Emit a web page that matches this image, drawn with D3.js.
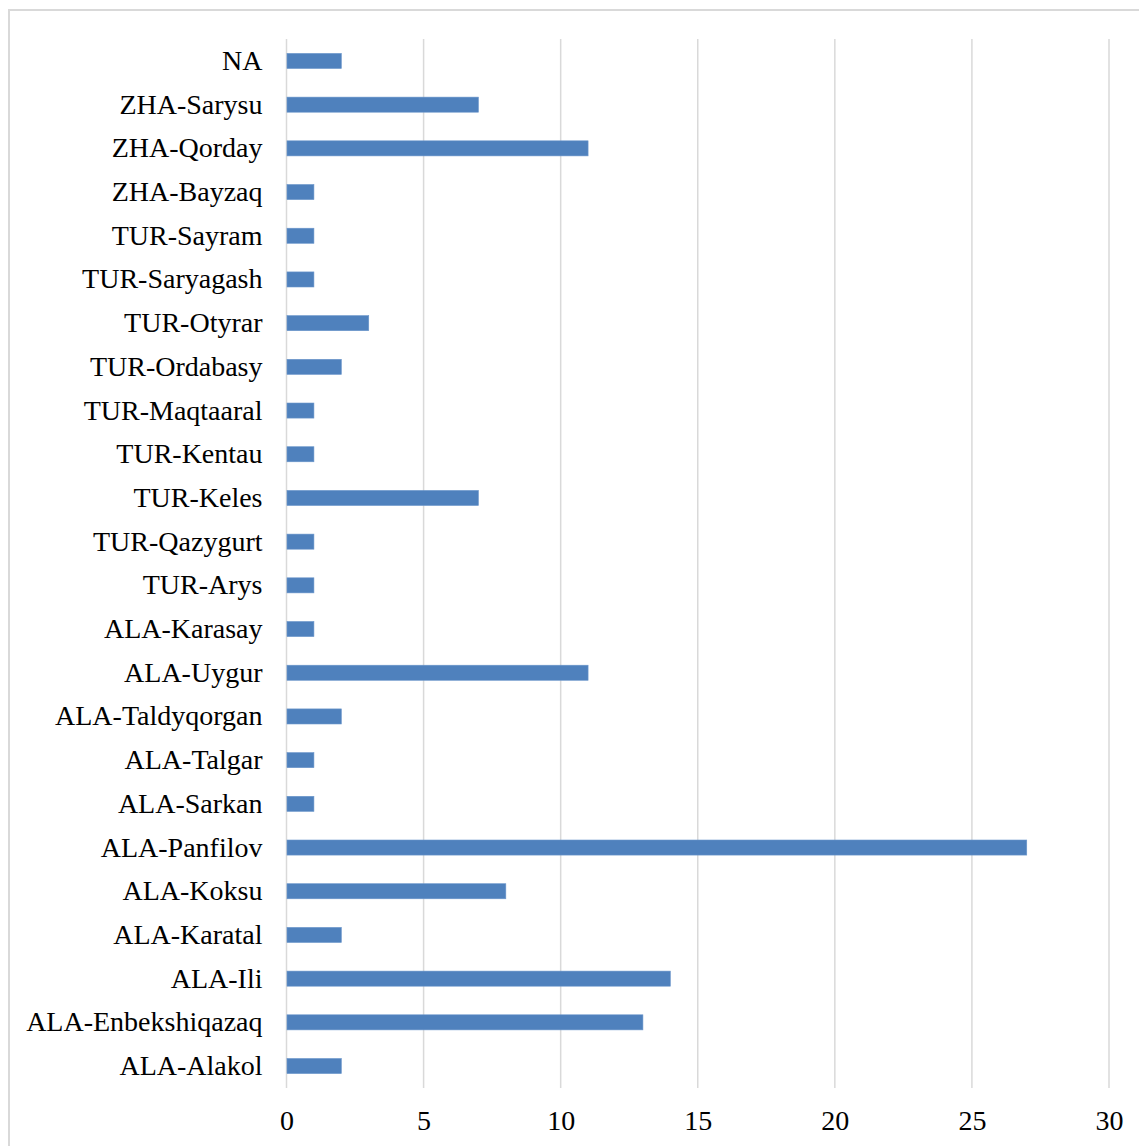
<!DOCTYPE html>
<html>
<head>
<meta charset="utf-8">
<script src="https://cdn.jsdelivr.net/npm/d3@7/dist/d3.min.js"></script>
<style>
  html, body { margin: 0; padding: 0; background: #fff; }
  svg { display: block; }
</style>
</head>
<body>
<svg id="chart" width="1139" height="1146"></svg>
<script>
// Districts, top to bottom
const categories = [
  "NA", "ZHA-Sarysu", "ZHA-Qorday", "ZHA-Bayzaq", "TUR-Sayram", "TUR-Saryagash",
  "TUR-Otyrar", "TUR-Ordabasy", "TUR-Maqtaaral", "TUR-Kentau", "TUR-Keles",
  "TUR-Qazygurt", "TUR-Arys", "ALA-Karasay", "ALA-Uygur", "ALA-Taldyqorgan",
  "ALA-Talgar", "ALA-Sarkan", "ALA-Panfilov", "ALA-Koksu", "ALA-Karatal",
  "ALA-Ili", "ALA-Enbekshiqazaq", "ALA-Alakol"
];
const counts = [2, 7, 11, 1, 1, 1, 3, 2, 1, 1, 7, 1, 1, 1, 11, 2, 1, 1, 27, 8, 2, 14, 13, 2];
const xTicks = [0, 5, 10, 15, 20, 25, 30];

const svg = d3.select("#chart");
const W = 1139, H = 1146;
const plotLeft = 286.5, plotRight = 1109, plotTop = 39, plotBottom = 1088;

// chart frame
svg.append("rect")
  .attr("x", 9).attr("y", 10)
  .attr("width", W + 20).attr("height", H + 20)
  .attr("fill", "#fff")
  .attr("stroke", "#d9d9d9").attr("stroke-width", 2);

const x = d3.scaleLinear().domain([0, 30]).range([plotLeft, plotRight]);
const y = d3.scaleBand().domain(categories).range([plotTop, plotBottom]).paddingInner(0.655).paddingOuter(0.33);

// vertical gridlines
svg.append("g")
  .selectAll("line")
  .data(xTicks)
  .join("line")
  .attr("x1", d => x(d)).attr("x2", d => x(d))
  .attr("y1", plotTop).attr("y2", plotBottom)
  .attr("stroke", "#d9d9d9").attr("stroke-width", 1.5);

// bars
svg.append("g")
  .selectAll("rect")
  .data(categories.map((c, i) => ({ c, v: counts[i] })))
  .join("rect")
  .attr("x", x(0) + 0.5)
  .attr("y", d => y(d.c))
  .attr("width", d => x(d.v) - x(0) - 0.5)
  .attr("height", y.bandwidth())
  .attr("fill", "#4f81bd")
  .attr("stroke", "#6b96cb").attr("stroke-width", 0.6);

// category labels
const yAxis = d3.axisLeft(y).tickSize(0).tickPadding(24);
const gy = svg.append("g").attr("transform", `translate(${plotLeft},0)`).call(yAxis);
gy.select(".domain").remove();
gy.selectAll("text")
  .attr("font-family", "'Liberation Serif', 'Times New Roman', serif")
  .attr("font-size", 28)
  .attr("fill", "#000");

// value axis labels
const xAxis = d3.axisBottom(x).tickValues(xTicks).tickSize(0).tickPadding(22).tickFormat(d3.format("d"));
const gx = svg.append("g").attr("transform", `translate(0,${plotBottom})`).call(xAxis);
gx.select(".domain").remove();
gx.selectAll("text")
  .attr("font-family", "'Liberation Serif', 'Times New Roman', serif")
  .attr("font-size", 28)
  .attr("fill", "#000");
</script>
</body>
</html>
